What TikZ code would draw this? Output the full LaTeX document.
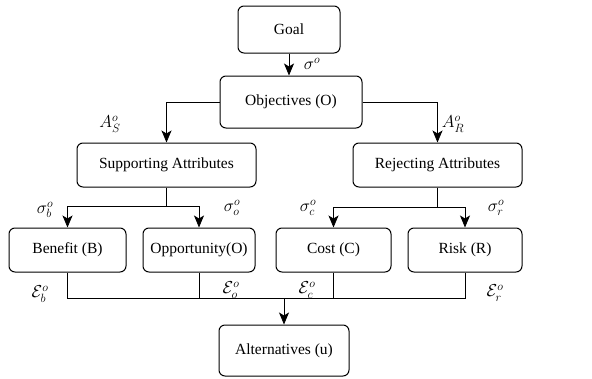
\documentclass[tikz,border=0pt]{standalone}
\usepackage{fontspec}
\setmainfont{Liberation Serif}
\usetikzlibrary{arrows.meta}
\begin{document}
\begin{tikzpicture}[x=1pt,y=-1pt,
  box/.style={draw,line width=1pt,rounded corners=6pt,font=\fontsize{15.5}{18}\selectfont,inner sep=0pt},
  conn/.style={line width=0.8pt},
  arr/.style={conn,-{Stealth[length=12pt,width=10pt,inset=3pt]}},
  lab/.style={font=\fontsize{16.5}{18}\selectfont,inner sep=0pt}]
\useasboundingbox (0,0) rectangle (592,378);
\node[box,minimum width=102pt,minimum height=47pt] (goal) at (289,29.5) {Goal};
\node[box,minimum width=142pt,minimum height=52pt] (obj) at (291,102) {Objectives (O)};
\node[box,minimum width=179pt,minimum height=44pt] (sup) at (166.5,165) {Supporting Attributes};
\node[box,minimum width=169pt,minimum height=44pt] (rej) at (437.5,165) {Rejecting Attributes};
\node[box,minimum width=117pt,minimum height=44pt] (ben) at (67.5,250) {Benefit (B)};
\node[box,minimum width=112pt,minimum height=44pt] (opp) at (199,250) {Opportunity(O)};
\node[box,minimum width=115pt,minimum height=44pt] (cost) at (333.5,250) {Cost (C)};
\node[box,minimum width=114pt,minimum height=44pt] (risk) at (465,250) {Risk (R)};
\node[box,minimum width=130pt,minimum height=51pt] (alt) at (284,350.5) {Alternatives (u)};
\coordinate (sj) at (166.5,206);
\coordinate (rj) at (437.5,207);
\coordinate (bus) at (284,298);
\draw[arr] (goal.south) -- (goal.south |- obj.north);
\draw[arr] (obj.west) -| (sup.north);
\draw[arr] (obj.east) -| (rej.north);
\draw[conn] (sup.south) -- (sj);
\draw[arr] (sj) -| (ben.north);
\draw[arr] (sj) -| (opp.north);
\draw[conn] (rej.south) -- (rj);
\draw[arr] (rj) -| (cost.north);
\draw[arr] (rj) -| (risk.north);
\draw[conn] (ben.south) |- (bus);
\draw[conn] (risk.south) |- (bus);
\draw[conn] (opp.south) -- (opp.south |- bus);
\draw[conn] (cost.south) -- (cost.south |- bus);
\draw[arr] (bus) -- (alt.north);
\node[lab] (l1) at (312,64) {$\sigma^o$};
\node[lab] (l2) at (110,124) {$A_S^o$};
\node[lab] (l3) at (453,124) {$A_R^o$};
\node[lab] (l4) at (45,210) {$\sigma_b^o$};
\node[lab] (l5) at (232,208) {$\sigma_o^o$};
\node[lab] (l6) at (308,208) {$\sigma_c^o$};
\node[lab] (l7) at (496,208) {$\sigma_r^o$};
\node[lab] (l8) at (40,294) {$\mathcal{E}_b^o$};
\node[lab] (l9) at (231,290) {$\mathcal{E}_o^o$};
\node[lab] (l10) at (307,290) {$\mathcal{E}_c^o$};
\node[lab] (l11) at (495,293) {$\mathcal{E}_r^o$};
\end{tikzpicture}
\end{document}
